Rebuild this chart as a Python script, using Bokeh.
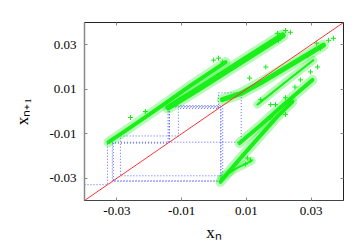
from bokeh.plotting import figure
from bokeh.models import Range1d, LinearAxis, FixedTicker
from bokeh.embed import file_html
from bokeh.resources import INLINE

# ---- data ----
x_ticks = [-0.03, -0.01, 0.01, 0.03]
tick_labels = ["-0.03", "-0.01", "0.01", "0.03"]

# attractor branches (dense cores)
b1_x = [-0.0326, -0.0258, -0.0165, -0.0073, 0.0036]
b1_y = [-0.0138, -0.0071, 0.0022, 0.0116, 0.0222]
b2_x = [-0.0141, -0.0042, 0.0082, 0.0212]
b2_y = [0.0018, 0.0107, 0.0222, 0.0342]
b3_x = [0.0026, 0.0082, 0.0144, 0.0236, 0.0338]
b3_y = [0.0053, 0.0080, 0.0129, 0.0209, 0.0298]
bm_x = [0.0134, 0.0221, 0.0307]
bm_y = [0.0031, 0.0133, 0.0231]
b5_x = [0.0020, 0.0066, 0.0128, 0.0196, 0.0242]
b5_y = [-0.0316, -0.0236, -0.0133, -0.0022, 0.0044]
b6_x = [0.0079, 0.0144, 0.0205, 0.0258, 0.0304]
b6_y = [-0.0142, -0.0062, 0.0018, 0.0084, 0.0142]
hook_x = [0.0023, 0.0066, 0.0116]
hook_y = [-0.0298, -0.0258, -0.0222]

# sparse points
sp_x = [-0.0001, 0.0026, 0.0014, -0.0258, -0.0212, 0.0221, 0.0236, 0.0196, 0.0199,
        0.0354, 0.0369, 0.0329, 0.0317, 0.0267, 0.0298, 0.0175, 0.0221, 0.0144,
        0.0190, 0.0236, 0.0221, 0.0175, 0.0097, 0.0113, 0.0103, 0.0290, 0.0320,
        0.0110, 0.0160, 0.0250]
sp_y = [0.0231, 0.0222, 0.0240, -0.0027, 0.0000, 0.0364, 0.0356, 0.0351, 0.0320,
        0.0320, 0.0329, 0.0284, 0.0307, 0.0142, 0.0178, 0.0031, 0.0062, 0.0053,
        0.0031, 0.0044, -0.0013, -0.0027, -0.0236, -0.0218, -0.0209, 0.0250, 0.0200,
        0.0150, 0.0200, 0.0110]

# cobweb orbit
orbit = [-0.0329, -0.0142, 0.0020, -0.0314, -0.0138, 0.0027, -0.0289, -0.0110,
         0.0014, 0.0084, -0.0138, 0.0022, -0.0311, -0.0140]

diag = [-0.04, 0.04]

# ---- figure ----
p = figure(width=352, height=244, output_backend="svg", toolbar_location=None,
           x_range=Range1d(-0.04, 0.04), y_range=Range1d(-0.04, 0.04),
           min_border_left=84, min_border_right=9, min_border_top=22,
           min_border_bottom=42)
p.grid.visible = False
p.background_fill_color = "white"
p.border_fill_color = "white"
p.outline_line_color = "#222222"
p.outline_line_width = 1

font = "Liberation Serif"
over = {v: s for v, s in zip(x_ticks, tick_labels)}
for ax in [p.xaxis[0], p.yaxis[0]]:
    ax.ticker = FixedTicker(ticks=x_ticks)
    ax.major_label_overrides = over
    ax.major_label_text_font = font
    ax.major_label_text_font_size = "13px"
    ax.major_label_text_color = "black"
    ax.major_tick_in = 3
    ax.major_tick_out = 0
    ax.minor_tick_line_color = None
    ax.major_tick_line_color = "#888888"
    ax.axis_label_text_font = font
    ax.axis_label_text_font_size = "17px"
    ax.axis_label_text_font_style = "normal"
    ax.axis_label_text_color = "black"
p.xaxis[0].axis_label = "x\u2099"
p.yaxis[0].axis_label = "x\u2099\u208a\u2081"
p.yaxis[0].axis_line_color = "#888888"
p.yaxis[0].axis_line_width = 1.5
p.xaxis[0].axis_line_color = "#444444"
p.yaxis[0].major_label_standoff = 8
p.xaxis[0].major_label_standoff = 6
p.xaxis[0].axis_label_standoff = 5
p.yaxis[0].axis_label_standoff = 14

for loc in ["above", "right"]:
    ax = LinearAxis(ticker=FixedTicker(ticks=x_ticks),
                    major_label_overrides={v: "" for v in x_ticks},
                    major_tick_in=3, major_tick_out=0,
                    minor_tick_line_color=None,
                    major_tick_line_color="#888888", axis_line_color=None,
                    major_label_standoff=0)
    p.add_layout(ax, loc)

green = "#11ee11"
cx, cy = [-0.04], [orbit[0]]
for i in range(len(orbit) - 1):
    cx += [orbit[i], orbit[i]]
    cy += [orbit[i], orbit[i + 1]]
p.line(cx, cy, line_color="#3344ff", line_width=1, line_dash="1 2", line_alpha=0.8)

for bx, by, w in [(b1_x, b1_y, 5), (b2_x, b2_y, 7), (b3_x, b3_y, 6),
                  (bm_x, bm_y, 3), (b5_x, b5_y, 5), (b6_x, b6_y, 5),
                  (hook_x, hook_y, 3)]:
    p.line(bx, by, line_color=green, line_width=w + 5, line_alpha=0.3,
           line_cap="round", line_join="round")
    p.line(bx, by, line_color=green, line_width=w - 1, line_alpha=0.95,
           line_cap="round", line_join="round")
p.scatter(sp_x, sp_y, marker="cross", size=5, line_color=green, line_width=1)

p.line(diag, diag, line_color="#ff3333", line_width=1)

open("out.html", "w").write(file_html(p, INLINE))
